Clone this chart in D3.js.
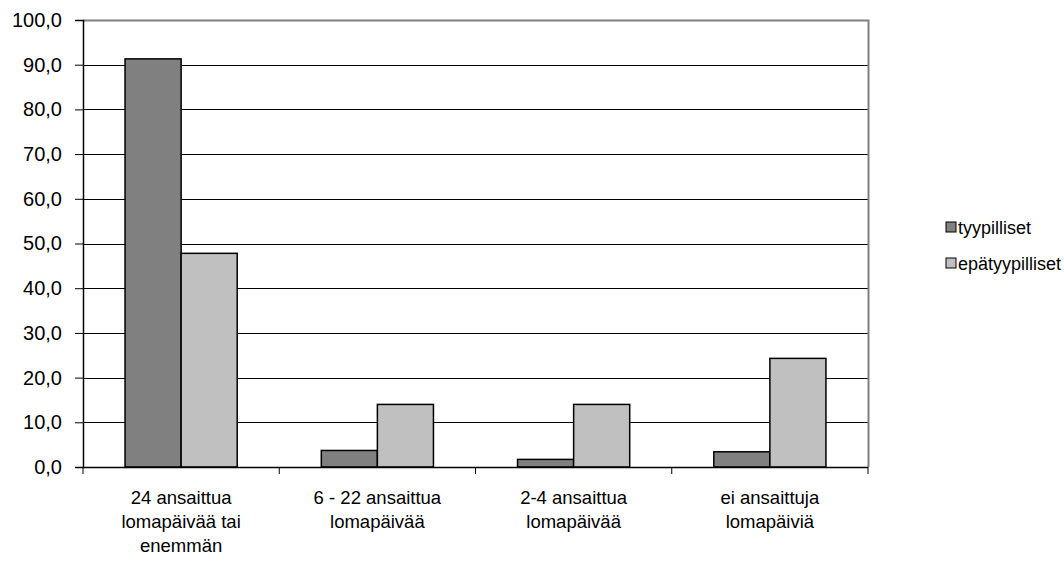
<!DOCTYPE html>
<html><head><meta charset="utf-8">
<script src="https://cdn.jsdelivr.net/npm/d3@7"></script>
<style>body{margin:0;background:#fff}text{font-family:Arial,"Liberation Sans",sans-serif}</style>
</head><body><svg id="c" width="1064" height="573"></svg>
<script>
const categories = [["24 ansaittua","lomapäivää tai","enemmän"],["6 - 22 ansaittua","lomapäivää"],["2-4 ansaittua","lomapäivää"],["ei ansaittuja","lomapäiviä"]];
const seriesNames = ["tyypilliset","epätyypilliset"];
const typical = [91.3, 3.7, 1.7, 3.4];
const atypical = [47.8, 14.0, 14.0, 24.3];
const yTicks = [0,10,20,30,40,50,60,70,80,90,100];
const colors = ["#808080","#C0C0C0"];

const svg = d3.select("#c");
const L=83, R=868, T=20, B=467;
const x = d3.scaleBand().domain(d3.range(categories.length)).range([L,R]);
const y = d3.scaleLinear().domain([0,100]).range([B,T]);
const bw = x.bandwidth()/3.5;

svg.append("g").selectAll("line").data(yTicks.filter(d=>d>0&&d<100)).join("line")
  .attr("x1",L).attr("x2",R).attr("y1",d=>Math.round(y(d))+0.5).attr("y2",d=>Math.round(y(d))+0.5)
  .attr("stroke","#000").attr("stroke-width",1);
svg.append("path").attr("d",`M${L},${T+0.5}H${R+0.5}V${B}`).attr("fill","none").attr("stroke","#808080").attr("stroke-width",2);

const data = [typical, atypical];
data.forEach((vals,si)=>{
  svg.append("g").selectAll("rect").data(vals).join("rect")
    .attr("x",(d,i)=>x(i)+x.bandwidth()/2 - bw + si*bw)
    .attr("width",bw)
    .attr("y",d=>y(d)).attr("height",d=>B-y(d))
    .attr("fill",colors[si]).attr("stroke","#000").attr("stroke-width",1.5);
});

const ya = svg.append("g").attr("transform",`translate(${L},0)`)
  .call(d3.axisLeft(y).tickValues(yTicks).tickSize(8).tickPadding(13).tickFormat(d=>d3.format(".1f")(d).replace(".",",")));
ya.select(".domain").attr("stroke","#000").attr("stroke-width",1.5);
ya.selectAll(".tick line").attr("stroke","#000");
ya.selectAll("text").attr("font-size",20).attr("fill","#000").attr("font-family","Arial, 'Liberation Sans', sans-serif");

svg.append("line").attr("x1",L).attr("x2",R).attr("y1",B+0.5).attr("y2",B+0.5).attr("stroke","#000").attr("stroke-width",1.5);
svg.append("g").selectAll("line").data(d3.range(categories.length+1)).join("line")
  .attr("x1",i=>i<categories.length?x(i):R).attr("x2",i=>i<categories.length?x(i):R)
  .attr("y1",B).attr("y2",B+7).attr("stroke","#000");

const xl = svg.append("g").selectAll("text").data(categories).join("text")
  .attr("x",(d,i)=>x(i)+x.bandwidth()/2).attr("y",504)
  .attr("text-anchor","middle").attr("font-size",18.5).attr("fill","#000");
xl.selectAll("tspan").data(d=>d).join("tspan")
  .attr("x",function(){return this.parentNode.getAttribute("x")})
  .attr("dy",(d,i)=>i===0?0:24).text(d=>d);

const lg = svg.append("g").selectAll("g").data(seriesNames).join("g")
  .attr("transform",(d,i)=>`translate(946,${222+i*36})`);
lg.append("rect").attr("width",10).attr("height",10).attr("fill",(d,i)=>colors[i]).attr("stroke","#000").attr("stroke-width",1);
lg.append("text").attr("x",12).attr("y",11.5).attr("font-size",18).attr("fill","#000").text(d=>d);
</script></body></html>
